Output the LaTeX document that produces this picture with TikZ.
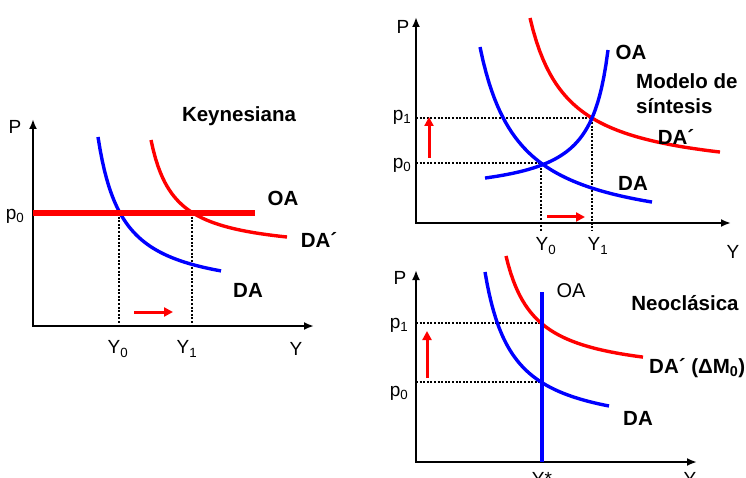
\documentclass[tikz,border=0pt]{standalone}
\usepackage{fontspec}
\setmainfont{Liberation Sans}
\usetikzlibrary{arrows.meta,positioning}

\begin{document}
\begin{tikzpicture}[
  x=1pt,y=-1pt,
  axis/.style={line width=2.6pt,{Latex[length=10pt,width=8pt]}-{Latex[length=10pt,width=8pt]}},
  curveblue/.style={blue,line width=3.4pt},
  curvered/.style={red,line width=3.4pt},
  guide/.style={dash pattern=on 2pt off 1.6pt,line width=2.2pt},
  shiftarr/.style={red,line width=3pt,-{Triangle[length=9pt,width=9pt]}},
  lab/.style={font=\fontsize{19}{21}\selectfont,inner sep=1pt},
  tag/.style={font=\fontsize{20.5}{25}\selectfont\bfseries,inner sep=1pt,align=left}
]
\useasboundingbox (0,0) rectangle (746,478);

% Keynesiana
\coordinate (kO) at (33,326);
\coordinate (kPt) at (33,119);
\coordinate (kYt) at (314,326);
\coordinate (kOAa) at (33,213);
\coordinate (kOAb) at (255,213);
\coordinate (kE0) at (119,213);
\coordinate (kE1) at (192,213);
\coordinate (kSa) at (134,312);
\coordinate (kSb) at (173,312);
\draw[axis] (kPt) -- (kO) -- (kYt);
\draw[guide] (kE0) -- (kE0 |- kO);
\draw[guide] (kE1) -- (kE1 |- kO);
\draw[curveblue] plot[domain=98:221,samples=60] (\x,{297.6-3935.6/(\x-73.5)});
\draw[curvered] plot[domain=151:287,samples=60] (\x,{253.7-2660/(\x-127.6)});
\draw[red,line width=5.5pt] (kOAa) -- (kOAb);
\draw[shiftarr] (kSa) -- (kSb);
\node[lab] (kP) at (15,127) {P};
\node[lab] (kp0) at (15,216) {p\textsubscript{0}};
\node[lab] (kY0) at (118,349) {Y\textsubscript{0}};
\node[lab] (kY1) at (187,349) {Y\textsubscript{1}};
\node[lab] (kY) at (296,349) {Y};
\node[tag] (kOA) at (283,198) {OA};
\node[tag] (kDAp) at (319,240) {DA´};
\node[tag] (kDA) at (248,290) {DA};
\node[tag] (ktitle) at (239,116) {Keynesiana};

% Modelo de sintesis
\coordinate (sO) at (416,223);
\coordinate (sPt) at (416,17);
\coordinate (sYt) at (731,223);
\coordinate (sE0) at (541,163);
\coordinate (sE1) at (592,118);
\coordinate (sSa) at (547,217);
\coordinate (sSb) at (585,217);
\coordinate (sUa) at (429,158);
\coordinate (sUb) at (429,117);
\draw[axis] (sPt) -- (sO) -- (sYt);
\draw[guide] (sE0 -| sO) -- (sE0) -- ([yshift=-8pt]sE0 |- sO);
\draw[guide] (sE1 -| sO) -- (sE1) -- ([yshift=-8pt]sE1 |- sO);
\draw[curvered] plot[domain=530:720,samples=60] (\x,{178.5-6018/(\x-492.5)});
\draw[curveblue] plot[domain=480:652,samples=60] (\x,{237.2-7416/(\x-441)});
\draw[curveblue] plot[domain=485:608,samples=60] (\x,{197.5-2758/(626.7-\x)});
\draw[shiftarr] (sSa) -- (sSb);
\draw[shiftarr] (sUa) -- (sUb);
\node[lab] (sP) at (403,27) {P};
\node[lab] (sp1) at (402,117) {p\textsubscript{1}};
\node[lab] (sp0) at (402,165) {p\textsubscript{0}};
\node[lab] (sY0) at (546,246) {Y\textsubscript{0}};
\node[lab] (sY1) at (598,246) {Y\textsubscript{1}};
\node[lab] (sY) at (733,252) {Y};
\node[tag] (sOA) at (631,52) {OA};
\node[tag,anchor=west] (stitle) at (635,94) {Modelo de\\síntesis};
\node[tag] (sDAp) at (676,137) {DA´};
\node[tag] (sDA) at (633,183) {DA};

% Neoclasica
\coordinate (nO) at (416,462);
\coordinate (nPt) at (416,270);
\coordinate (nYt) at (697,462);
\coordinate (nE0) at (542,382);
\coordinate (nE1) at (542,323);
\coordinate (nOAt) at (542,292);
\coordinate (nUa) at (427,378);
\coordinate (nUb) at (427,331);
\draw[axis] (nPt) -- (nO) -- (nYt);
\draw[guide] (nE0 -| nO) -- (nE0);
\draw[guide] (nE1 -| nO) -- (nE1);
\draw[curvered] plot[domain=506:643,samples=60] (\x,{378.5-3553/(\x-477)});
\draw[curveblue] plot[domain=485:609,samples=60] (\x,{435.4-4445/(\x-457.8)});
\draw[curveblue] (nOAt) -- (nOAt |- nO);
\draw[shiftarr] (nUa) -- (nUb);
\node[lab] (nP) at (400,278) {P};
\node[lab] (np1) at (399,325) {p\textsubscript{1}};
\node[lab] (np0) at (399,393) {p\textsubscript{0}};
\node[lab,anchor=base] (nYs) at (542,485) {Y*};
\node[lab,anchor=base] (nY) at (690,485) {Y};
\node[lab,font=\fontsize{20}{22}\selectfont] (nOA) at (571,291) {OA};
\node[tag] (ntitle) at (685,303) {Neoclásica};
\node[tag,anchor=west] (nDAp) at (648,368) {DA´ (ΔM\textsubscript{0})};
\node[tag] (nDA) at (638,418) {DA};
\end{tikzpicture}
\end{document}
